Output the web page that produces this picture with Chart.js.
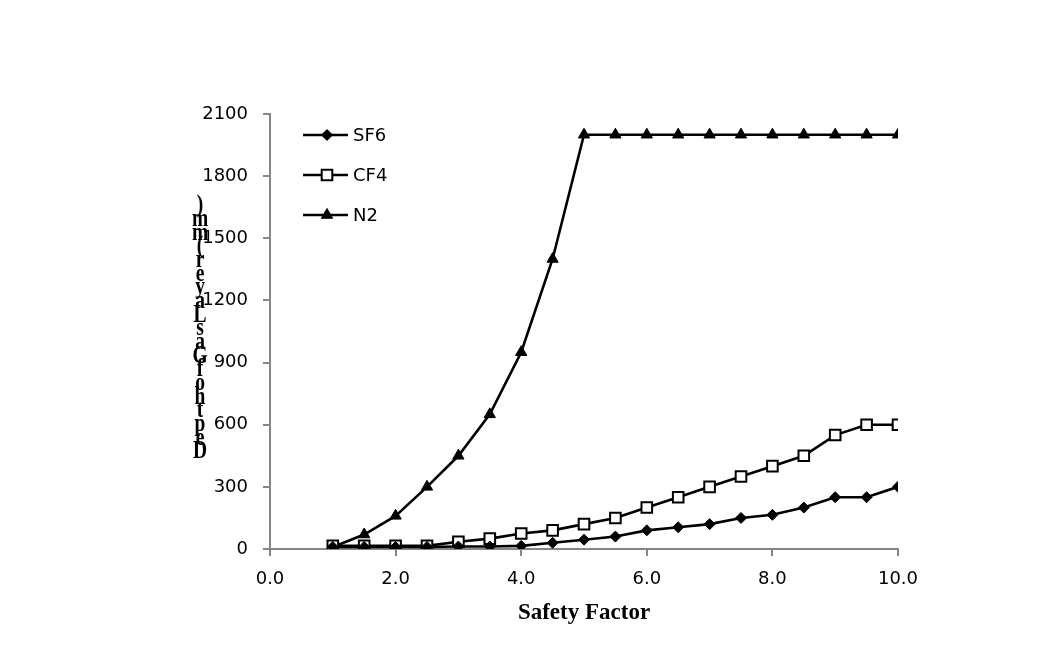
<!DOCTYPE html>
<html>
<head>
<meta charset="utf-8">
<script src="https://cdn.jsdelivr.net/npm/chart.js@4/dist/chart.umd.min.js"></script>
<style>
  html, body { margin: 0; padding: 0; background: #ffffff; }
  #wrap { width: 1045px; height: 659px; }
</style>
</head>
<body>
<div id="wrap"><canvas id="c" width="1045" height="659"></canvas></div>
<script>
// ---- data ----
const safetyFactor = [1, 1.5, 2, 2.5, 3, 3.5, 4, 4.5, 5, 5.5, 6, 6.5, 7, 7.5, 8, 8.5, 9, 9.5, 10];
const sf6Depth = [10, 10, 10, 10, 12, 12, 15, 30, 45, 60, 90, 105, 120, 150, 165, 200, 250, 250, 300];
const cf4Depth = [15, 15, 15, 15, 35, 50, 75, 90, 120, 150, 200, 250, 300, 350, 400, 450, 550, 600, 600];
const n2Depth  = [10, 70, 160, 300, 450, 650, 950, 1400, 2000, 2000, 2000, 2000, 2000, 2000, 2000, 2000, 2000, 2000, 2000];
const seriesNames = ['SF6', 'CF4', 'N2'];
const xTitle = 'Safety Factor';
const yTitle = 'Depth of Gas Layer (mm)';
const xMin = 0, xMax = 10, xStep = 2;
const yMin = 0, yMax = 2100, yStep = 300;

const toPoints = (ys) => safetyFactor.map((x, i) => ({ x: x, y: ys[i] }));

const AXIS_GRAY = '#868686';
const TICK_FONT = { family: 'DejaVu Sans', size: 18 };

// Legend drawn inside the plot area (top-left), Excel style: line + marker + label
const insideLegend = {
  id: 'insideLegend',
  afterDatasetsDraw(chart) {
    const ctx = chart.ctx;
    const x0 = 303, x1 = 348, mx = 327, tx = 353;
    const rows = [135, 175, 215];
    ctx.save();
    chart.data.datasets.forEach((ds, i) => {
      const y = rows[i];
      ctx.strokeStyle = ds.borderColor;
      ctx.lineWidth = ds.borderWidth;
      ctx.beginPath();
      ctx.moveTo(x0, y);
      ctx.lineTo(x1, y);
      ctx.stroke();
      const opts = {
        pointStyle: ds.pointStyle,
        radius: ds.pointRadius,
        borderWidth: ds.pointBorderWidth,
        rotation: 0
      };
      ctx.fillStyle = ds.pointBackgroundColor;
      ctx.strokeStyle = ds.pointBorderColor;
      ctx.lineWidth = ds.pointBorderWidth;
      Chart.helpers.drawPoint(ctx, opts, mx, y);
      ctx.fillStyle = '#000000';
      ctx.font = '18px "DejaVu Sans"';
      ctx.textAlign = 'left';
      ctx.textBaseline = 'middle';
      ctx.fillText(ds.label, tx, y + 1);
    });
    ctx.restore();
  }
};

// Y-axis title: characters stacked bottom-to-top, upright (as in the reference)
const stackedYTitle = {
  id: 'stackedYTitle',
  afterDraw(chart) {
    const ctx = chart.ctx;
    const chars = yTitle.replace(/\s+/g, '').split('');
    const yBottom = 452, yTop = 206, cx = 200;
    const step = (yBottom - yTop) / (chars.length - 1);
    ctx.save();
    ctx.fillStyle = '#000000';
    ctx.font = 'bold 25px "Liberation Serif"';
    ctx.textAlign = 'center';
    ctx.textBaseline = 'middle';
    chars.forEach((ch, i) => {
      ctx.save();
      ctx.translate(cx, yBottom - i * step);
      ctx.scale(0.78, 1);
      ctx.fillText(ch, 0, 0);
      ctx.restore();
    });
    ctx.restore();
  }
};

const baseDs = {
  borderColor: '#000000',
  borderWidth: 2.6,
  pointBorderColor: '#000000',
  tension: 0,
  fill: false
};

new Chart(document.getElementById('c'), {
  type: 'line',
  data: {
    datasets: [
      Object.assign({}, baseDs, {
        label: seriesNames[0], data: toPoints(sf6Depth),
        pointStyle: 'rectRot', pointRadius: 5.5, pointBorderWidth: 1,
        pointBackgroundColor: '#000000'
      }),
      Object.assign({}, baseDs, {
        label: seriesNames[1], data: toPoints(cf4Depth),
        pointStyle: 'rect', pointRadius: 7.5, pointBorderWidth: 2,
        pointBackgroundColor: '#ffffff'
      }),
      Object.assign({}, baseDs, {
        label: seriesNames[2], data: toPoints(n2Depth),
        pointStyle: 'triangle', pointRadius: 6.5, pointBorderWidth: 1,
        pointBackgroundColor: '#000000'
      })
    ]
  },
  options: {
    responsive: false,
    animation: false,
    events: [],
    layout: { padding: { left: 0, right: 147, top: 114, bottom: 0 } },
    plugins: {
      legend: { display: false },
      tooltip: { enabled: false },
      title: { display: false }
    },
    scales: {
      x: {
        type: 'linear',
        min: xMin, max: xMax,
        afterFit(scale) { scale.height = 110; },
        ticks: {
          stepSize: xStep,
          color: '#000000',
          font: TICK_FONT,
          padding: 13,
          maxRotation: 0,
          callback: (v) => Number(v).toFixed(1)
        },
        grid: { drawOnChartArea: false, drawTicks: true, tickLength: 7, color: AXIS_GRAY, lineWidth: 2 },
        border: { display: true, color: AXIS_GRAY, width: 2 },
        title: {
          display: true,
          text: xTitle,
          color: '#000000',
          font: { family: 'Liberation Serif', size: 23, weight: 'bold' },
          padding: { top: 0, bottom: 32 }
        }
      },
      y: {
        type: 'linear',
        min: yMin, max: yMax,
        afterFit(scale) { scale.width = 270; },
        ticks: {
          stepSize: yStep,
          color: '#000000',
          font: TICK_FONT,
          padding: 15,
          callback: (v) => String(v)
        },
        grid: { drawOnChartArea: false, drawTicks: true, tickLength: 7, color: AXIS_GRAY, lineWidth: 2 },
        border: { display: true, color: AXIS_GRAY, width: 2 }
      }
    }
  },
  plugins: [insideLegend, stackedYTitle]
});
</script>
</body>
</html>
